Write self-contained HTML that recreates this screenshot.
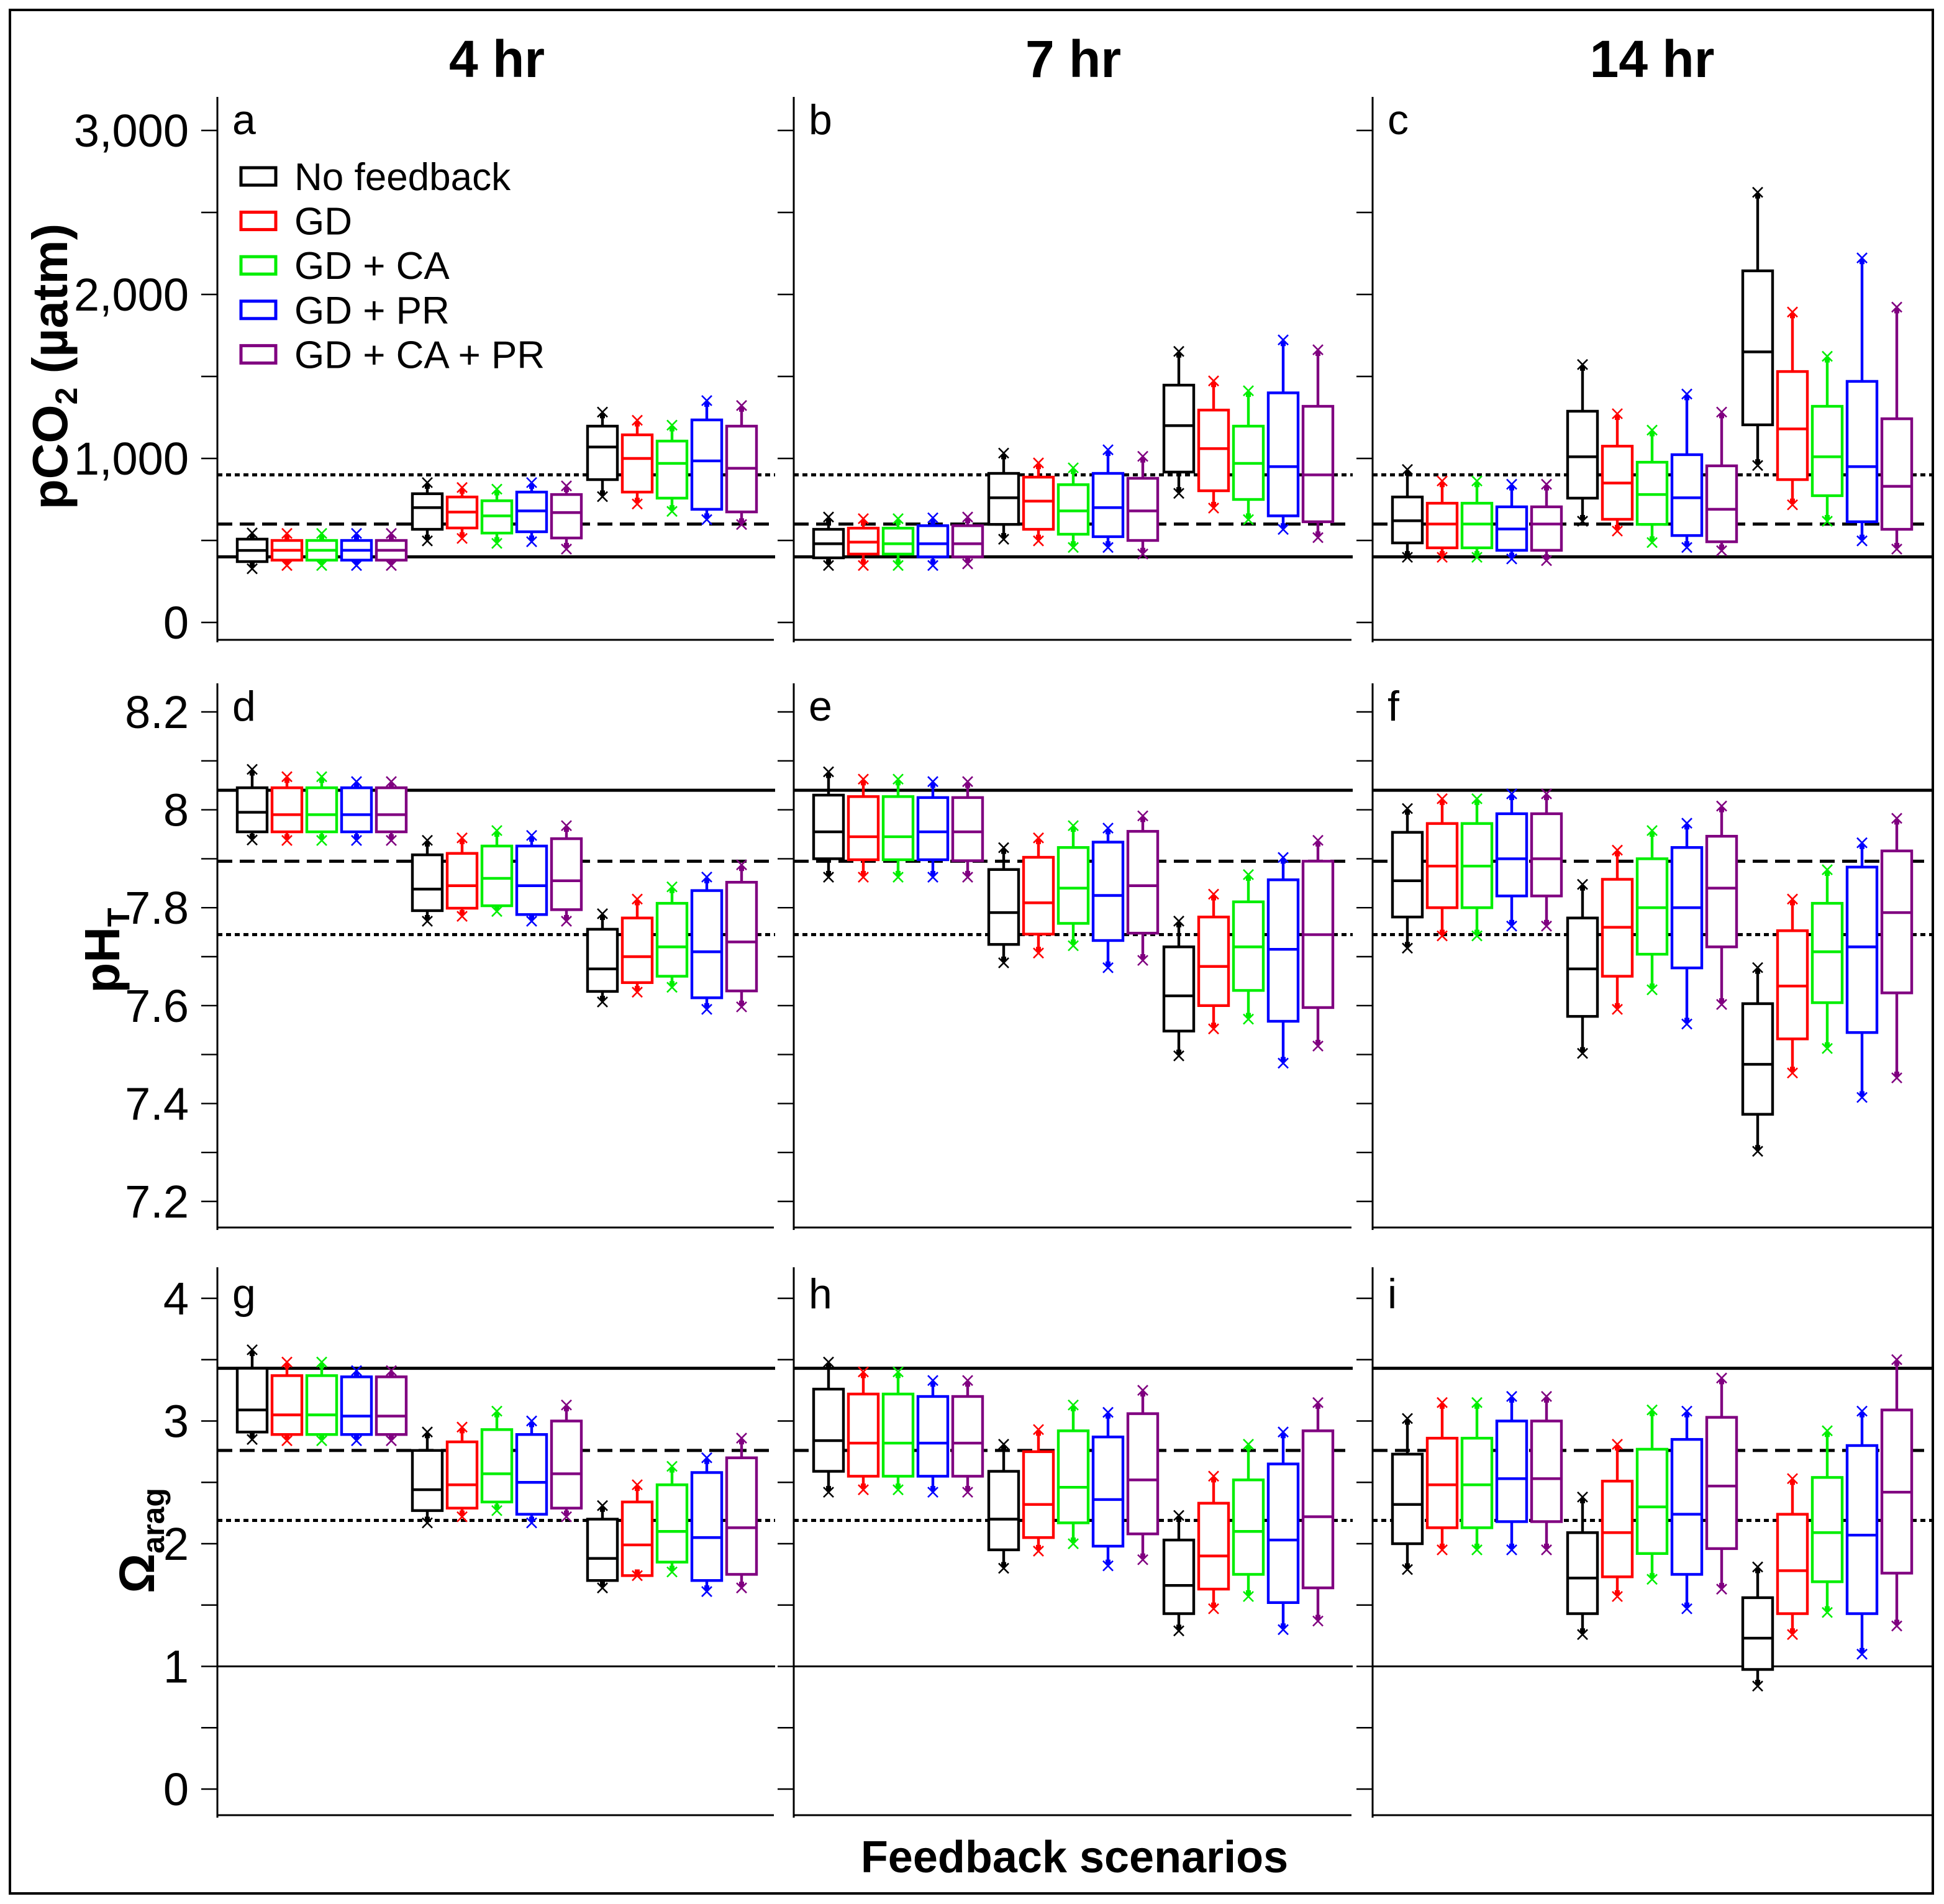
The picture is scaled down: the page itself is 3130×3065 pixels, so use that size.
<!DOCTYPE html>
<html><head><meta charset="utf-8"><style>html,body{margin:0;padding:0;background:#fff}svg{display:block}</style></head>
<body>
<svg id="chart" width="3130" height="3065" viewBox="0 0 1565 1532.5" xmlns="http://www.w3.org/2000/svg" font-family="'Liberation Sans',sans-serif">
<rect x="8" y="8" width="1548" height="1516" fill="#fff" stroke="#000" stroke-width="2"/>
<g id="plot"></g>
</svg>
<script>
const colors = ["#000000","#ff0000","#00ee00","#0000ff","#800080"];
const seriesNames = ["No feedback","GD","GD + CA","GD + PR","GD + CA + PR"];
const columnTitles = ["4 hr","7 hr","14 hr"];
const panelLetters = ["a","b","c","d","e","f","g","h","i"];
const pco2Ticks = [0,1000,2000,3000];
const pco2TickLabels = ["0","1,000","2,000","3,000"];
const phTicks = [7.2,7.4,7.6,7.8,8.0,8.2];
const phTickLabels = ["7.2","7.4","7.6","7.8","8","8.2"];
const omTicks = [0,1,2,3,4];
const omTickLabels = ["0","1","2","3","4"];
const pco2Refs = [400,600,900];
const phRefs = [8.04,7.895,7.745];
const omRefs = [3.43,2.76,2.19];

// Panel a
const aQ1=[371,380,380,380,380, 568,576,545,553,515, 871,795,758,690,674];
const aMed=[439,440,440,440,440, 700,673,650,680,670, 1070,1000,970,985,940];
const aQ3=[508,500,500,500,500, 785,765,742,795,780, 1197,1144,1106,1235,1197];
const aLo=[350,370,370,370,370, 520,535,505,515,470, 790,745,700,650,620];
const aHi=[523,520,520,520,520, 830,800,790,830,810, 1260,1210,1180,1330,1300];
// Panel b
const bQ1=[394,417,417,400,400, 598,568,538,523,500, 917,803,750,650,614];
const bMed=[480,490,480,480,480, 760,740,680,700,680, 1200,1060,970,950,900];
const bQ3=[568,575,575,590,590, 909,886,840,909,879, 1447,1295,1197,1400,1318];
const bLo=[370,370,370,370,380, 530,520,480,480,440, 810,720,650,590,540];
const bHi=[620,610,610,615,620, 1010,950,920,1030,990, 1630,1450,1390,1700,1640];
// Panel c
const cQ1=[485,455,455,440,440, 758,629,598,530,492, 1205,871,773,614,568];
const cMed=[620,600,600,570,600, 1010,850,780,760,690, 1650,1180,1010,950,830];
const cQ3=[765,727,727,705,705, 1288,1075,977,1023,955, 2144,1530,1318,1470,1242];
const cLo=[420,420,420,410,400, 640,580,510,480,460, 980,740,640,520,470];
const cHi=[910,840,840,820,820, 1550,1250,1150,1370,1260, 2600,1870,1600,2200,1900];
// Panel d
const dQ1=[7.955,7.955,7.955,7.955,7.955, 7.794,7.799,7.804,7.786,7.796, 7.629,7.647,7.66,7.616,7.63];
const dMed=[7.995,7.99,7.99,7.99,7.99, 7.838,7.845,7.86,7.845,7.855, 7.675,7.70,7.72,7.71,7.73];
const dQ3=[8.045,8.045,8.045,8.045,8.045, 7.908,7.911,7.926,7.926,7.941, 7.756,7.779,7.809,7.835,7.852];
const dLo=[7.946,7.945,7.945,7.945,7.945, 7.78,7.79,7.80,7.78,7.78, 7.615,7.635,7.645,7.60,7.605];
const dHi=[8.075,8.06,8.06,8.05,8.05, 7.93,7.935,7.95,7.94,7.96, 7.78,7.81,7.835,7.855,7.88];
// Panel e
const eQ1=[7.90,7.898,7.898,7.898,7.896, 7.725,7.746,7.768,7.733,7.748, 7.548,7.60,7.631,7.568,7.596];
const eMed=[7.955,7.945,7.945,7.955,7.955, 7.79,7.81,7.84,7.825,7.845, 7.62,7.68,7.72,7.715,7.745];
const eQ3=[8.03,8.027,8.027,8.025,8.025, 7.878,7.903,7.923,7.934,7.956, 7.72,7.781,7.812,7.857,7.895];
const eLo=[7.87,7.87,7.87,7.87,7.87, 7.695,7.715,7.73,7.685,7.70, 7.505,7.56,7.58,7.49,7.525];
const eHi=[8.07,8.055,8.055,8.05,8.05, 7.915,7.935,7.96,7.955,7.98, 7.765,7.82,7.86,7.895,7.93];
// Panel f
const fQ1=[7.781,7.80,7.80,7.824,7.824, 7.578,7.66,7.705,7.677,7.72, 7.378,7.532,7.606,7.545,7.626];
const fMed=[7.855,7.885,7.885,7.90,7.90, 7.675,7.76,7.80,7.80,7.84, 7.48,7.64,7.71,7.72,7.79];
const fQ3=[7.954,7.972,7.972,7.992,7.992, 7.779,7.858,7.90,7.923,7.946, 7.604,7.753,7.809,7.883,7.916];
const fLo=[7.725,7.75,7.75,7.77,7.77, 7.51,7.60,7.64,7.57,7.61, 7.31,7.47,7.52,7.42,7.46];
const fHi=[7.995,8.015,8.015,8.025,8.025, 7.84,7.91,7.95,7.965,8.0, 7.67,7.81,7.87,7.925,7.975];
// Panel g
const gQ1=[2.91,2.89,2.89,2.89,2.89, 2.27,2.29,2.34,2.24,2.29, 1.70,1.74,1.85,1.70,1.75];
const gMed=[3.09,3.05,3.05,3.04,3.04, 2.44,2.48,2.57,2.50,2.57, 1.88,1.99,2.10,2.05,2.13];
const gQ3=[3.43,3.37,3.37,3.36,3.36, 2.76,2.83,2.93,2.89,3.00, 2.20,2.34,2.48,2.58,2.70];
const gLo=[2.88,2.87,2.87,2.87,2.87, 2.20,2.25,2.30,2.20,2.25, 1.67,1.77,1.80,1.64,1.67];
const gHi=[3.55,3.45,3.45,3.38,3.38, 2.88,2.92,3.05,2.97,3.10, 2.28,2.45,2.60,2.67,2.83];
// Panel h
const hQ1=[2.59,2.55,2.55,2.55,2.55, 1.95,2.05,2.17,1.98,2.08, 1.43,1.63,1.75,1.52,1.64];
const hMed=[2.84,2.82,2.82,2.82,2.82, 2.20,2.32,2.46,2.36,2.52, 1.66,1.90,2.10,2.03,2.22];
const hQ3=[3.26,3.22,3.22,3.20,3.20, 2.59,2.75,2.92,2.87,3.06, 2.03,2.33,2.52,2.65,2.92];
const hLo=[2.45,2.47,2.47,2.45,2.45, 1.83,1.97,2.03,1.85,1.90, 1.32,1.50,1.60,1.33,1.40];
const hHi=[3.45,3.37,3.37,3.30,3.30, 2.78,2.90,3.10,3.04,3.22, 2.20,2.52,2.78,2.88,3.12];
// Panel i
const iQ1=[2.00,2.13,2.13,2.18,2.18, 1.43,1.73,1.92,1.75,1.96, 0.975,1.43,1.69,1.43,1.76];
const iMed=[2.32,2.48,2.48,2.53,2.53, 1.72,2.09,2.30,2.24,2.47, 1.23,1.78,2.09,2.07,2.42];
const iQ3=[2.73,2.86,2.86,3.00,3.00, 2.09,2.51,2.77,2.85,3.03, 1.56,2.24,2.54,2.80,3.09];
const iLo=[1.82,1.98,1.98,1.98,1.98, 1.29,1.60,1.74,1.50,1.66, 0.87,1.29,1.47,1.13,1.36];
const iHi=[2.99,3.12,3.12,3.17,3.17, 2.35,2.78,3.06,3.05,3.32, 1.78,2.50,2.89,3.05,3.47];

const NS="http://www.w3.org/2000/svg";
const root=document.getElementById('plot');
function mk(tag,attrs,parent,text){const e=document.createElementNS(NS,tag);for(const k in attrs)e.setAttribute(k,attrs[k]);if(text!==undefined)e.textContent=text;(parent||root).appendChild(e);return e;}

const colX=[175,639,1105];
const colW=[448,449,450];
const rows=[
 {top:78,bottom:515,y:v=>501-v*0.132,ticks:pco2Ticks,labels:pco2TickLabels,minor:500,min:0,max:3000,refs:pco2Refs,lt:97},
 {top:550,bottom:988,y:v=>967-(v-7.2)*394,ticks:phTicks,labels:phTickLabels,minor:0.1,min:7.2,max:8.2,refs:phRefs,lt:569},
 {top:1020,bottom:1461,y:v=>1440-v*98.75,ticks:omTicks,labels:omTickLabels,minor:0.5,min:0,max:4,refs:omRefs,lt:1042}
];
const panels=[
 [aQ1,aMed,aQ3,aLo,aHi],[bQ1,bMed,bQ3,bLo,bHi],[cQ1,cMed,cQ3,cLo,cHi],
 [dQ1,dMed,dQ3,dLo,dHi],[eQ1,eMed,eQ3,eLo,eHi],[fQ1,fMed,fQ3,fLo,fHi],
 [gQ1,gMed,gQ3,gLo,gHi],[hQ1,hMed,hQ3,hLo,hHi],[iQ1,iMed,iQ3,iLo,iHi]
];
const dashes=["","12,6","4,3"];

columnTitles.forEach((t,c)=>{
 const e=mk('text',{x:colX[c]+225,y:62,'text-anchor':'middle','font-size':42,'font-weight':'bold'},root,t);
 
 
});

rows.forEach((R,r)=>{
 for(let c=0;c<3;c++){
  const x0=colX[c], x1=x0+colW[c];
  const g=mk('g',{});
  
  
  const ax=mk('line',{x1:x0,y1:R.top,x2:x0,y2:R.bottom+2,stroke:'#000','stroke-width':1.5},g);
  
  
  const bx=mk('line',{x1:x0,y1:R.bottom,x2:x1,y2:R.bottom,stroke:'#000','stroke-width':1.5},g);
  
  
  for(let v=R.min;v<=R.max+1e-9;v+=R.minor){
   const tk=mk('line',{x1:x0-13,y1:R.y(v),x2:x0,y2:R.y(v),stroke:'#000','stroke-width':1.2},g);
   
   
  }
  if(c===0){
   R.ticks.forEach((v,i)=>{
    const tl=mk('text',{x:152,y:R.y(v)+13,'text-anchor':'end','font-size':37},g,R.labels[i]);
    
    
   });
  }
  const lt=mk('text',{x:x0+12,y:R.lt+11,'font-size':34},g,panelLetters[r*3+c]);
  
  
  R.refs.forEach((v,i)=>{
   const rl=mk('line',{x1:x0,y1:R.y(v),x2:x1+1,y2:R.y(v),stroke:'#000','stroke-width':2.5,'stroke-dasharray':dashes[i]},g);
   
   
  });
  if(r===2){
   const one=mk('line',{x1:x0,y1:R.y(1),x2:x1+1,y2:R.y(1),stroke:'#000','stroke-width':1.5},g);
   
   
  }
  const d=panels[r*3+c];
  for(let k=0;k<15;k++){
   const grp=Math.floor(k/5), s=k%5;
   const cx=x0+28+grp*141+s*28, col=colors[s];
   const yq1=R.y(d[0][k]), ym=R.y(d[1][k]), yq3=R.y(d[2][k]), ylo=R.y(d[3][k]), yhi=R.y(d[4][k]);
   const bg=mk('g',{stroke:col,'stroke-width':2.2,fill:'none'},g);
   
   
   mk('line',{x1:cx,y1:yhi,x2:cx,y2:yq3},bg);
   mk('line',{x1:cx,y1:yq1,x2:cx,y2:ylo},bg);
   mk('rect',{x:cx-12,y:yq3,width:24,height:Math.max(1,yq1-yq3),fill:'#fff'},bg);
   mk('line',{x1:cx-12,y1:ym,x2:cx+12,y2:ym},bg);
   mk('rect',{x:cx-2,y:yhi-2,width:4,height:4,fill:col,'stroke-width':0},bg);
   mk('rect',{x:cx-2,y:ylo-2,width:4,height:4,fill:col,'stroke-width':0},bg);
   [ylo+3,yhi-3].forEach(yy=>{
    mk('path',{d:`M${cx-4},${yy-4}L${cx+4},${yy+4}M${cx+4},${yy-4}L${cx-4},${yy+4}`,'stroke-width':1.3},bg);
   });
  }
 }
});

// legend
seriesNames.forEach((n,i)=>{
 const y=142+i*35.8;
 const lg=mk('g',{});
 
 
 mk('rect',{x:194,y:y-7,width:28,height:14,fill:'#fff',stroke:colors[i],'stroke-width':2.5},lg);
 mk('text',{x:237,y:y+11,'font-size':31},lg,n);
});

// axis titles
let t=mk('text',{x:0,y:0,'font-size':40,'font-weight':'bold','text-anchor':'middle',transform:'translate(54,295) rotate(-90)'});


t.innerHTML='pCO<tspan font-size="25" dy="8">2</tspan><tspan dy="-8"> (µatm)</tspan>';
t=mk('text',{x:0,y:0,'font-size':40,'font-weight':'bold','text-anchor':'middle',transform:'translate(96,765) rotate(-90)'});


t.innerHTML='pH<tspan font-size="25" dy="8">T</tspan>';
t=mk('text',{x:0,y:0,'font-size':40,'font-weight':'bold','text-anchor':'middle',transform:'translate(124,1240) rotate(-90)'});


t.innerHTML='Ω<tspan font-size="25" dy="8">arag</tspan>';
t=mk('text',{x:865,y:1507,'font-size':36,'font-weight':'bold','text-anchor':'middle'},root,'Feedback scenarios');


</script>
</body></html>
